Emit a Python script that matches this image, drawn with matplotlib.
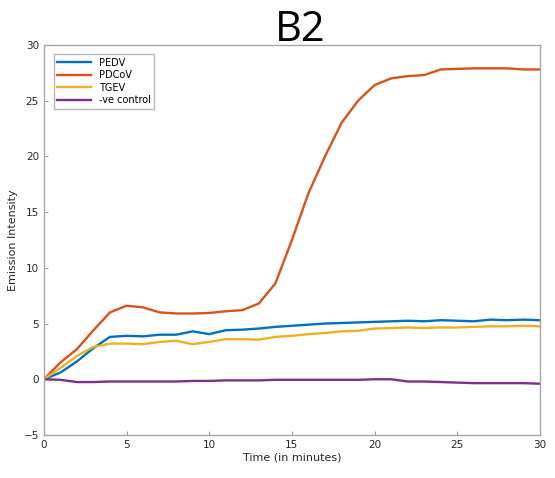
import numpy as np
import matplotlib.pyplot as plt

minutes = list(range(31))

pedv = [0, 0.6, 1.6, 2.8, 3.8, 3.9, 3.85, 4.0, 4.0, 4.3, 4.05, 4.4, 4.45, 4.55, 4.7, 4.8,
        4.9, 5.0, 5.05, 5.1, 5.15, 5.2, 5.25, 5.2, 5.3, 5.25, 5.2, 5.35, 5.3, 5.35, 5.3]
pdcov = [0, 1.5, 2.7, 4.4, 6.0, 6.6, 6.45, 6.0, 5.9, 5.9, 5.95, 6.1, 6.2, 6.8, 8.6, 12.5,
         16.7, 20.0, 23.0, 25.0, 26.4, 27.0, 27.2, 27.3, 27.8, 27.85, 27.9, 27.9, 27.9, 27.8, 27.8]
tgev = [0, 1.0, 2.1, 2.9, 3.2, 3.2, 3.15, 3.35, 3.45, 3.15, 3.35, 3.6, 3.6, 3.55, 3.8, 3.9,
        4.05, 4.15, 4.3, 4.35, 4.55, 4.6, 4.65, 4.6, 4.65, 4.65, 4.7, 4.75, 4.75, 4.8, 4.75]
control = [0, -0.05, -0.25, -0.25, -0.2, -0.2, -0.2, -0.2, -0.2, -0.15, -0.15, -0.1, -0.1, -0.1,
           -0.05, -0.05, -0.05, -0.05, -0.05, -0.05, 0.0, 0.0, -0.2, -0.2, -0.25, -0.3, -0.35,
           -0.35, -0.35, -0.35, -0.4]

labels = ['PEDV', 'PDCoV', 'TGEV', '-ve control']
colors = ['#0072BD', '#D95319', '#EDB120', '#7E2F8E']

fig = plt.figure(figsize=(5.55, 4.78), dpi=100)
ax = fig.add_axes([0.079, 0.090, 0.894, 0.816])

for ys, lab, c in zip([pedv, pdcov, tgev, control], labels, colors):
    ax.plot(minutes, ys, color=c, lw=1.7, label=lab)

ax.set_xlim(0, 30)
ax.set_ylim(-5, 30)
ax.set_xticks(np.arange(0, 31, 5))
ax.set_yticks(np.arange(-5, 31, 5))
ax.tick_params(direction='in', length=3, labelsize=7.5, colors='#9a9a9a', labelcolor='#262626')
for s in ax.spines.values():
    s.set_color('#a8a8a8')
    s.set_linewidth(1)

ax.set_xlabel('Time (in minutes)', fontsize=8, color='#262626', labelpad=2)
ax.set_ylabel('Emission Intensity', fontsize=8, color='#262626', labelpad=4)

leg = ax.legend(loc='upper left', fontsize=7, frameon=True, fancybox=False,
                edgecolor='#a8a8a8', handlelength=3.5, borderpad=0.35, labelspacing=0.25,
                bbox_to_anchor=(0.01, 0.988))
leg.get_frame().set_linewidth(1)

fig.text(0.54, 0.893, 'B2', fontsize=30, ha='center', va='bottom', family='Open Sans')

fig.savefig('out.png', dpi=100)
